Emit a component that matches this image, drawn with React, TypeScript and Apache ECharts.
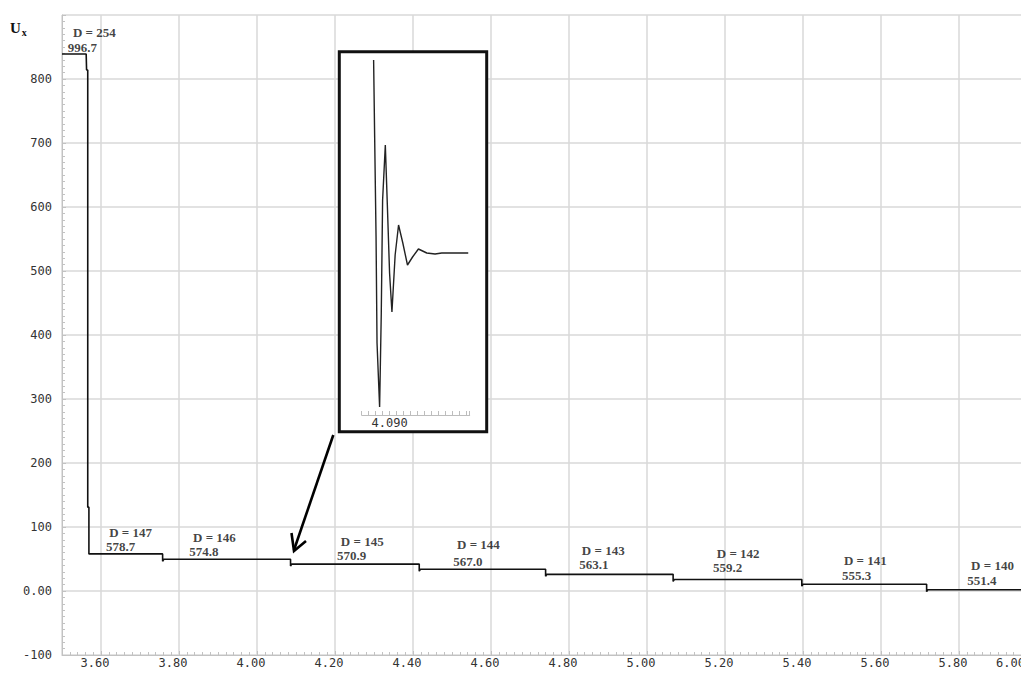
import { useEffect, useRef } from "react";
import * as echarts from "echarts";

// Main trace: initial drop from the charged level, then the discrete steps
const initialDrop: [number, number][] = [
  [3.5, 839], [3.562, 839], [3.563, 814], [3.566, 814],
  [3.566, 131], [3.569, 131], [3.569, 58],
];
const switchTimes = [3.758, 4.086, 4.416, 4.74, 5.067, 5.397, 5.717];
const stepLevels = [58, 49.5, 42, 34, 26, 18, 10.5, 2];
const stepDips = [46.5, 39, 31, 23, 15, 7.5, -1];
const endTime = 6.0;

// Step annotations
const dValues = [254, 147, 146, 145, 144, 143, 142, 141, 140];
const voltages = [996.7, 578.7, 574.8, 570.9, 567.0, 563.1, 559.2, 555.3, 551.4];
const dLabelAnchors: [number, number][] = [
  [3.528, 873], [3.621, 91], [3.836, 84], [4.215, 77], [4.513, 72],
  [4.833, 64], [5.179, 58], [5.505, 47], [5.831, 39.5],
];
const vLabelAnchors: [number, number][] = [
  [3.515, 850], [3.613, 69], [3.826, 61], [4.205, 55], [4.503, 46],
  [4.826, 41], [5.169, 36], [5.5, 25], [5.821, 16],
];

// Zoomed transient at the 4.09 switch (inset)
const insetT = [
  4.08771, 4.08786, 4.08806, 4.0882, 4.08857, 4.08881, 4.089, 4.08939,
  4.08968, 4.09, 4.09034, 4.0908, 4.09129, 4.0919, 4.09257, 4.0933,
  4.09414, 4.09534, 4.09653, 4.09749, 4.10129,
];
const insetU = [
  355, 278, 178, 72, 8, 102, 215, 270,
  210, 142, 103, 160, 190, 172, 150, 158,
  166, 162, 161, 162, 162,
];
const insetLabel = 4.09;

const mono = "DejaVu Sans Mono";
const serif = "Liberation Serif";
const gridColor = "#d8d8d8";
const axisColor = "#c2c2c2";

function buildTrace(): [number, number][] {
  const pts: [number, number][] = initialDrop.map((p) => [p[0], p[1]]);
  switchTimes.forEach((t, i) => {
    pts.push([t, stepLevels[i]]);
    pts.push([t, stepDips[i]]);
    pts.push([t + 0.003, stepLevels[i + 1]]);
  });
  pts.push([endTime, stepLevels[stepLevels.length - 1]]);
  return pts;
}

export default function App() {
  const ref = useRef<HTMLDivElement>(null);

  useEffect(() => {
    if (!ref.current) return;
    const chart = echarts.init(ref.current, undefined, { renderer: "svg" });

    const labelItems = [
      ...dValues.map((d, i) => ({
        value: dLabelAnchors[i],
        label: { formatter: `D = ${d}` },
      })),
      ...voltages.map((v, i) => ({
        value: vLabelAnchors[i],
        label: { formatter: v.toFixed(1) },
      })),
    ];

    chart.setOption({
      animation: false,
      backgroundColor: "#ffffff",
      grid: [
        { left: 62, top: 15, width: 975, height: 640 },
        { left: 361.7, top: 55, width: 108, height: 360 },
      ],
      xAxis: [
        {
          type: "value",
          gridIndex: 0,
          min: 3.5,
          max: 6.0,
          splitNumber: 12,
          axisLine: { show: true, onZero: false, lineStyle: { color: axisColor, width: 1 } },
          axisTick: { show: true, inside: true, length: 4, lineStyle: { color: axisColor } },
          minorTick: { show: true, splitNumber: 10, length: 3, lineStyle: { color: axisColor } },
          splitLine: { show: true, lineStyle: { color: gridColor, width: 1.5 } },
          axisLabel: {
            showMinLabel: false,
            showMaxLabel: true,
            alignMaxLabel: "right",
            formatter: (v: number) => v.toFixed(2),
            fontFamily: mono,
            fontSize: 12,
            color: "#333",
            margin: 2,
            padding: [0, 12, 0, 0],
          },
        },
        {
          type: "value",
          gridIndex: 1,
          min: 4.086,
          max: 4.1015,
          interval: 0.001,
          z: 4,
          axisLine: { show: true, onZero: false, lineStyle: { color: "#bdbdbd", width: 1 } },
          axisTick: { show: true, inside: true, length: 4, lineStyle: { color: "#bdbdbd" } },
          splitLine: { show: false },
          axisLabel: {
            interval: 0,
            formatter: (v: number) => (Math.abs(v - insetLabel) < 1e-7 ? insetLabel.toFixed(3) : ""),
            fontFamily: mono,
            fontSize: 12,
            color: "#333",
            margin: 2,
          },
        },
      ],
      yAxis: [
        {
          type: "value",
          gridIndex: 0,
          min: -100,
          max: 900,
          interval: 100,
          axisLine: { show: true, onZero: false, lineStyle: { color: axisColor, width: 1 } },
          axisTick: { show: true, inside: true, length: 4, lineStyle: { color: axisColor } },
          minorTick: { show: true, splitNumber: 10, length: 3, lineStyle: { color: axisColor } },
          splitLine: { show: true, lineStyle: { color: gridColor, width: 1.5 } },
          axisLabel: {
            showMaxLabel: false,
            formatter: (v: number) => (v === 0 ? "0.00" : String(v)),
            fontFamily: mono,
            fontSize: 12,
            color: "#333",
            margin: 10,
          },
        },
        {
          type: "value",
          gridIndex: 1,
          min: 0,
          max: 360,
          show: false,
          splitLine: { show: false },
        },
      ],
      series: [
        {
          type: "line",
          xAxisIndex: 0,
          yAxisIndex: 0,
          data: buildTrace(),
          showSymbol: false,
          lineStyle: { color: "#111", width: 1.6 },
          z: 2,
          silent: true,
        },
        {
          type: "scatter",
          xAxisIndex: 0,
          yAxisIndex: 0,
          symbolSize: 0,
          data: labelItems,
          silent: true,
          z: 2,
          label: {
            show: true,
            position: "right",
            distance: 0,
            fontFamily: serif,
            fontWeight: "bold",
            fontSize: 13,
            color: "#111",
          },
        },
        {
          type: "line",
          xAxisIndex: 1,
          yAxisIndex: 1,
          data: insetT.map((t, i) => [t, insetU[i]]),
          showSymbol: false,
          lineStyle: { color: "#222", width: 1.4 },
          z: 5,
          silent: true,
        },
      ],
      graphic: [
        {
          type: "rect",
          z: 3,
          shape: { x: 339.3, y: 51.7, width: 147.4, height: 380 },
          style: { fill: "#ffffff", stroke: "#111", lineWidth: 3 },
        },
        {
          type: "line",
          z: 6,
          shape: { x1: 333.3, y1: 435, x2: 294, y2: 550 },
          style: { stroke: "#000", lineWidth: 2.6 },
        },
        {
          type: "polyline",
          z: 6,
          shape: { points: [[291.5, 533], [294, 551], [306, 541]] },
          style: { stroke: "#000", fill: "none", lineWidth: 2.6 },
        },
        {
          type: "text",
          z: 6,
          x: 10,
          y: 18,
          style: {
            text: "{u|U}{s|x}",
            rich: {
              u: { fontFamily: serif, fontWeight: "bold", fontSize: 15, fill: "#111" },
              s: { fontFamily: serif, fontWeight: "bold", fontSize: 10, fill: "#111", padding: [9, 0, 0, 1] },
            },
          },
        },
      ],
    });

    return () => chart.dispose();
  }, []);

  return (
    <div style={{ position: "absolute", left: 0, top: 0, width: 1021, height: 675, overflow: "hidden", background: "#fff" }}>
      <div ref={ref} style={{ width: 1045, height: 675 }} />
    </div>
  );
}
